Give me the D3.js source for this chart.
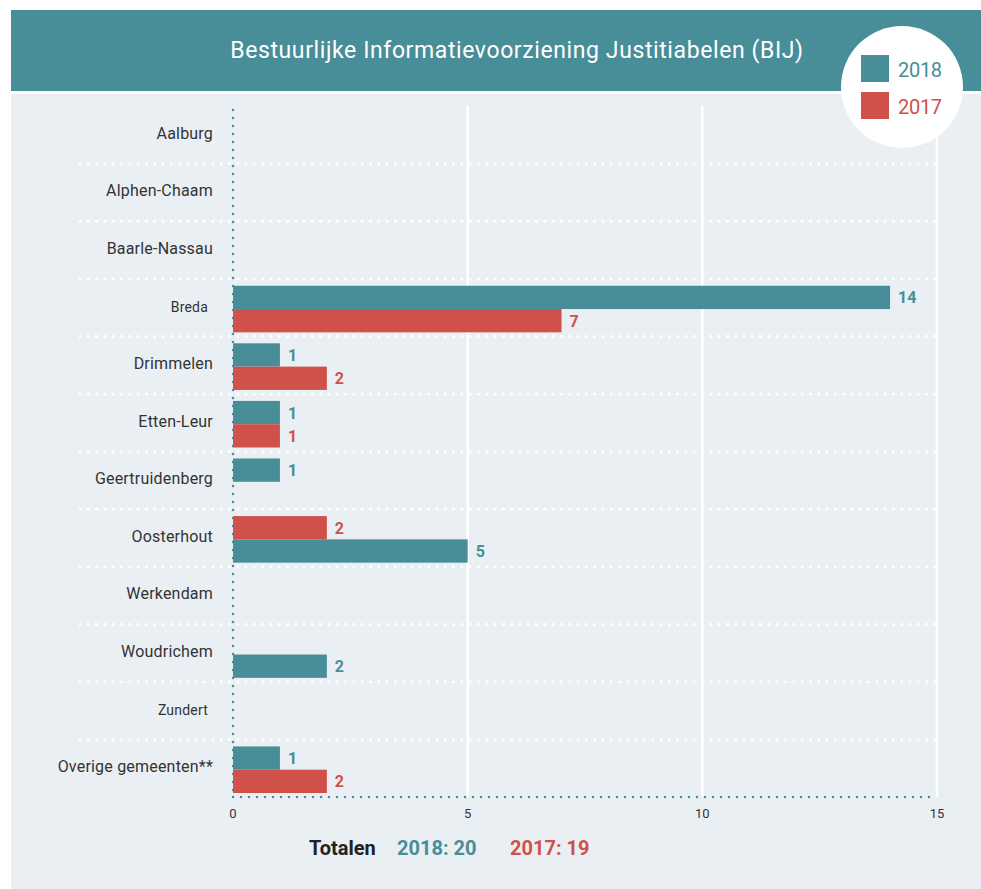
<!DOCTYPE html>
<html>
<head>
<meta charset="utf-8">
<script src="https://cdnjs.cloudflare.com/ajax/libs/d3/7.8.5/d3.min.js"></script>
<style>
  body { margin:0; background:#fff; }
  svg text { font-family: Roboto, "Noto Sans", sans-serif; }
</style>
</head>
<body>
<svg id="chart"></svg>
<script>
var categories = ["Aalburg","Alphen-Chaam","Baarle-Nassau","Breda","Drimmelen","Etten-Leur",
    "Geertruidenberg","Oosterhout","Werkendam","Woudrichem","Zundert","Overige gemeenten**"];
var values2018 = [0,0,0,14,1,1,1,5,0,2,0,1];
var values2017 = [0,0,0,7,2,1,0,2,0,0,0,2];
// which slot the 2018 bar sits in (0 = upper, 1 = lower), 2017 takes the other one
var slot2018 = [0,0,0,0,0,0,0,1,0,1,0,0];
var smallLabels = ["Breda","Zundert"];
var xTicks = [0,5,10,15];
var seriesNames = ["2018","2017"];
var totals = [20,19];

var teal = "#478e98";
var red = "#cf514a";
var panel = "#eaeff3";

var screen = {width:981, height:889};
var margins = {top:106, bottom:92, left:233, right:44};
var graph = {
    width:screen.width-margins.left-margins.right,
    height:screen.height-margins.top-margins.bottom
}

var svg = d3.select("#chart")
    .attr("width",screen.width)
    .attr("height",screen.height)

//background blocks
svg.append("rect").attr("x",11).attr("y",94).attr("width",970).attr("height",795).attr("fill",panel)
svg.append("rect").attr("x",11).attr("y",10).attr("width",970).attr("height",81).attr("fill",teal)

svg.append("text")
    .attr("x",517).attr("y",58)
    .attr("text-anchor","middle")
    .attr("fill","#fff")
    .attr("font-size",23)
    .attr("letter-spacing",0.6)
    .text("Bestuurlijke Informatievoorziening Justitiabelen (BIJ)")

var xScale = d3.scaleLinear()
    .domain([0,15])
    .range([0,graph.width])

var yScale = d3.scaleBand()
    .domain(categories)
    .range([0,graph.height])

var slotScale = d3.scaleBand()
    .domain([0,1])
    .range([7,yScale.bandwidth()-4])

var g = svg.append("g")
    .attr("transform","translate("+margins.left+","+margins.top+")")

//white vertical gridlines
g.selectAll(".grid")
    .data(xTicks.slice(1))
    .enter()
    .append("line")
    .attr("x1",function(d){return xScale(d)})
    .attr("x2",function(d){return xScale(d)})
    .attr("y1",0)
    .attr("y2",graph.height)
    .attr("stroke","#fff")
    .attr("stroke-width",2.5)

//dotted separators between rows
g.selectAll(".sep")
    .data(categories.slice(1))
    .enter()
    .append("line")
    .attr("x1",-153)
    .attr("x2",graph.width)
    .attr("y1",function(d){return yScale(d)})
    .attr("y2",function(d){return yScale(d)})
    .attr("stroke","#fff")
    .attr("stroke-width",3)
    .attr("stroke-linecap","round")
    .attr("stroke-dasharray","0 8.3")

//bars
var bars = [];
categories.forEach(function(c,i){
    bars.push({cat:c, value:values2018[i], slot:slot2018[i], color:teal});
    bars.push({cat:c, value:values2017[i], slot:1-slot2018[i], color:red});
});
bars = bars.filter(function(b){return b.value>0});

g.selectAll(".bar")
    .data(bars)
    .enter()
    .append("rect")
    .attr("x",0)
    .attr("y",function(b){return yScale(b.cat)+slotScale(b.slot)})
    .attr("width",function(b){return xScale(b.value)})
    .attr("height",slotScale.bandwidth())
    .attr("fill",function(b){return b.color})

g.selectAll(".val")
    .data(bars)
    .enter()
    .append("text")
    .attr("x",function(b){return xScale(b.value)+8})
    .attr("y",function(b){return yScale(b.cat)+slotScale(b.slot)+slotScale.bandwidth()/2+6})
    .attr("fill",function(b){return b.color})
    .attr("font-size",16)
    .attr("font-weight","bold")
    .text(function(b){return b.value})

//axis lines
g.append("line")
    .attr("x1",0).attr("x2",0)
    .attr("y1",4).attr("y2",graph.height)
    .attr("stroke",teal)
    .attr("stroke-width",2.5)
    .attr("stroke-linecap","round")
    .attr("stroke-dasharray","0 8")
g.append("line")
    .attr("x1",0).attr("x2",graph.width)
    .attr("y1",graph.height).attr("y2",graph.height)
    .attr("stroke",teal)
    .attr("stroke-width",2.5)
    .attr("stroke-linecap","round")
    .attr("stroke-dasharray","0 8")

//category labels
g.selectAll(".cat")
    .data(categories)
    .enter()
    .append("text")
    .attr("x",function(d){return smallLabels.indexOf(d)>=0 ? -25 : -20})
    .attr("y",function(d){return yScale(d)+yScale.bandwidth()/2+4})
    .attr("text-anchor","end")
    .attr("fill","#333")
    .attr("font-size",function(d){return smallLabels.indexOf(d)>=0 ? 14 : 16})
    .attr("letter-spacing",0.2)
    .text(function(d){return d})

//x ticks
g.selectAll(".tick")
    .data(xTicks)
    .enter()
    .append("text")
    .attr("x",function(d){return xScale(d)})
    .attr("y",graph.height+21)
    .attr("text-anchor","middle")
    .attr("fill","#333")
    .attr("font-size",13)
    .text(function(d){return d})

//totals
var tot = svg.append("text")
    .attr("x",309).attr("y",855)
    .attr("font-size",20)
    .attr("font-weight","bold")
tot.append("tspan").attr("fill","#222").text("Totalen")
tot.append("tspan").attr("x",397).attr("fill",teal).text(seriesNames[0]+": "+totals[0])
tot.append("tspan").attr("x",510).attr("fill",red).text(seriesNames[1]+": "+totals[1])

//legend circle
svg.append("circle").attr("cx",902).attr("cy",87).attr("r",61).attr("fill","#fff")
seriesNames.forEach(function(s,i){
    svg.append("rect")
        .attr("x",861).attr("y",55+i*37)
        .attr("width",28).attr("height",27)
        .attr("fill",i==0?teal:red)
    svg.append("text")
        .attr("x",898).attr("y",77+i*37)
        .attr("fill",i==0?teal:red)
        .attr("font-size",20)
        .attr("letter-spacing",-0.3)
        .text(s)
})
</script>
</body>
</html>
